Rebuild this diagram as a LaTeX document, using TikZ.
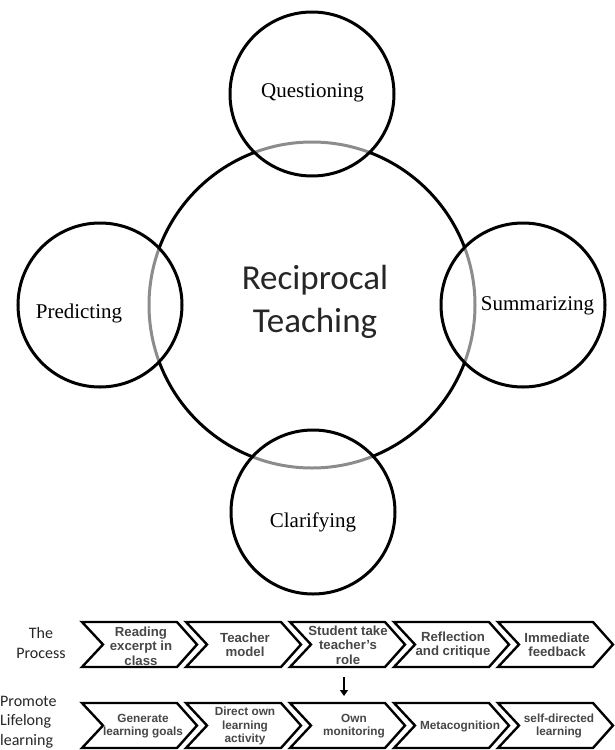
\documentclass[tikz,border=0pt]{standalone}
\usepackage{fontspec}
\setmainfont{Liberation Serif}
\newfontfamily\calib{Carlito}
\newfontfamily\arialf{Liberation Sans}
\usetikzlibrary{arrows.meta}
\tikzset{
  bigc/.style={circle, draw=black, line width=3pt, minimum size=326pt, inner sep=0pt},
  smallc/.style={circle, draw=black, line width=3pt, minimum size=164pt, inner sep=0pt,
                 fill=white, fill opacity=0.55, text opacity=1},
  ctext/.style={font=\fontsize{21}{24}\selectfont, inner sep=0pt, anchor=base},
  rtext/.style={font=\calib\fontsize{35}{42}\selectfont, inner sep=0pt, anchor=base, text=black!85},
  chevline/.style={draw=black, line width=2.4pt, line join=miter},
  chevA/.style={font=\arialf\bfseries\fontsize{13.2}{14.5}\selectfont, align=center, text=black!72, inner sep=0pt},
  chevB/.style={font=\arialf\bfseries\fontsize{11.8}{13.5}\selectfont, align=center, text=black!72, inner sep=0pt},
  sidelab/.style={font=\calib\fontsize{16}{19.5}\selectfont, inner sep=0pt, text=black!85},
  downarrow/.style={line width=2.6pt, -{Triangle[length=6pt,width=8pt]}}
}
\newcommand\chevshape[2]{\draw[chevline] (#1,#2) -- ++(95,0) -- ++(20,22.5) -- ++(-20,22.5) -- ++(-95,0) -- ++(21,-22.5) -- cycle;}
\begin{document}
\begin{tikzpicture}[x=1pt,y=-1pt]
\useasboundingbox (0,0) rectangle (614,750);
\fill[white] (0,0) rectangle (614,750);
% circles
\node[bigc] (rt) at (312,305) {};
\node[smallc] (cq) at (312,94) {};
\node[smallc] (cp) at (100,305) {};
\node[smallc] (cs) at (523,305) {};
\node[smallc] (cc) at (313,512) {};
\node[ctext] (tq) at (312.5,97) {Questioning};
\node[ctext] (tp) at (79,318) {Predicting};
\node[ctext] (ts) at (537.5,310) {Summarizing};
\node[ctext] (tc) at (313,527) {Clarifying};
\node[rtext] (r1) at (315,289) {Reciprocal};
\node[rtext] (r2) at (315,332) {Teaching};
% process row
\chevshape{82}{622}
\chevshape{186}{622}
\chevshape{290}{622}
\chevshape{394}{622}
\chevshape{498}{622}
\node[chevA] (p1) at (141,646) {Reading\\excerpt in\\class};
\node[chevA] (p2) at (245,645) {Teacher\\model};
\node[chevA] (p3) at (348,645) {Student take\\teacher’s\\role};
\node[chevA] (p4) at (453,645) {Reflection\\and critique};
\node[chevA] (p5) at (557,645) {Immediate\\feedback};
% lifelong row
\chevshape{82}{703}
\chevshape{186}{703}
\chevshape{290}{703}
\chevshape{394}{703}
\chevshape{498}{703}
\node[chevB] (l1) at (143,726) {Generate\\learning goals};
\node[chevB] (l2) at (245,726) {Direct own\\learning\\activity};
\node[chevB] (l3) at (354,726) {Own\\monitoring};
\node[chevB] (l4) at (460,726) {Metacognition};
\node[chevB] (l5) at (559,726) {self-directed\\learning};
% side labels
\node[sidelab, align=center] (lab1) at (41,643) {The\\Process};
\node[sidelab, align=left, anchor=west] (lab2) at (0,722) {Promote\\Lifelong\\learning};
% arrow
\coordinate (a1) at (344,677);
\coordinate (a2) at (344,696);
\draw[downarrow] (a1) -- (a2);
\end{tikzpicture}
\end{document}
